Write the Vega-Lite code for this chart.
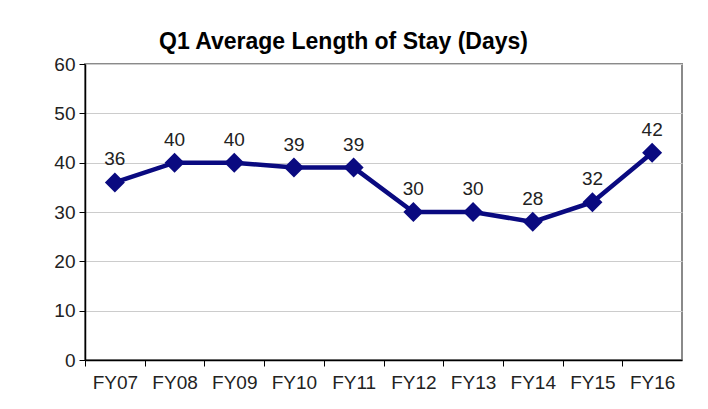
{
  "$schema": "https://vega.github.io/schema/vega-lite/v6.json",
  "width": 597,
  "height": 296,
  "autosize": {"type": "none"},
  "padding": {"left": 85, "top": 64, "right": 26, "bottom": 49},
  "background": "white",
  "title": {
    "text": "Q1 Average Length of Stay (Days)",
    "anchor": "start",
    "frame": "group",
    "dx": 74,
    "offset": 1,
    "font": "Liberation Sans",
    "fontSize": 23,
    "fontWeight": "bold",
    "color": "#000000"
  },
  "config": {
    "view": {"stroke": "#8a8a8a", "strokeWidth": 2},
    "font": "Liberation Sans"
  },
  "data": {
    "values": [
      {"fy": "FY07", "days": 36},
      {"fy": "FY08", "days": 40},
      {"fy": "FY09", "days": 40},
      {"fy": "FY10", "days": 39},
      {"fy": "FY11", "days": 39},
      {"fy": "FY12", "days": 30},
      {"fy": "FY13", "days": 30},
      {"fy": "FY14", "days": 28},
      {"fy": "FY15", "days": 32},
      {"fy": "FY16", "days": 42}
    ]
  },
  "encoding": {
    "x": {
      "field": "fy",
      "type": "nominal",
      "sort": null,
      "scale": {"type": "band", "paddingInner": 0, "paddingOuter": 0},
      "axis": {
        "title": null,
        "labelAngle": 0,
        "labelFont": "Liberation Sans",
        "labelFontSize": 19,
        "labelColor": "#222222",
        "labelPadding": 7,
        "domainColor": "#000000",
        "domainWidth": 1.5,
        "tickColor": "#000000",
        "tickSize": 6,
        "tickOffset": -29.85,
        "labelOffset": 29.85,
        "grid": false
      }
    },
    "y": {
      "field": "days",
      "type": "quantitative",
      "scale": {"domain": [0, 60], "nice": false},
      "axis": {
        "title": null,
        "values": [0, 10, 20, 30, 40, 50, 60],
        "labelFont": "Liberation Sans",
        "labelFontSize": 19,
        "labelColor": "#222222",
        "labelPadding": 4,
        "domainColor": "#000000",
        "domainWidth": 1.5,
        "tickColor": "#000000",
        "tickSize": 6,
        "grid": true,
        "gridColor": "#cccccc",
        "gridWidth": 1
      }
    }
  },
  "layer": [
    {
      "mark": {"type": "line", "color": "#0a0a80", "strokeWidth": 4.5}
    },
    {
      "mark": {"type": "point", "shape": "diamond", "filled": true, "size": 400, "color": "#0a0a80", "opacity": 1}
    },
    {
      "mark": {"type": "text", "dy": -23, "fontSize": 19, "font": "Liberation Sans", "color": "#222222", "baseline": "middle"},
      "encoding": {"text": {"field": "days", "type": "quantitative"}}
    }
  ]
}
